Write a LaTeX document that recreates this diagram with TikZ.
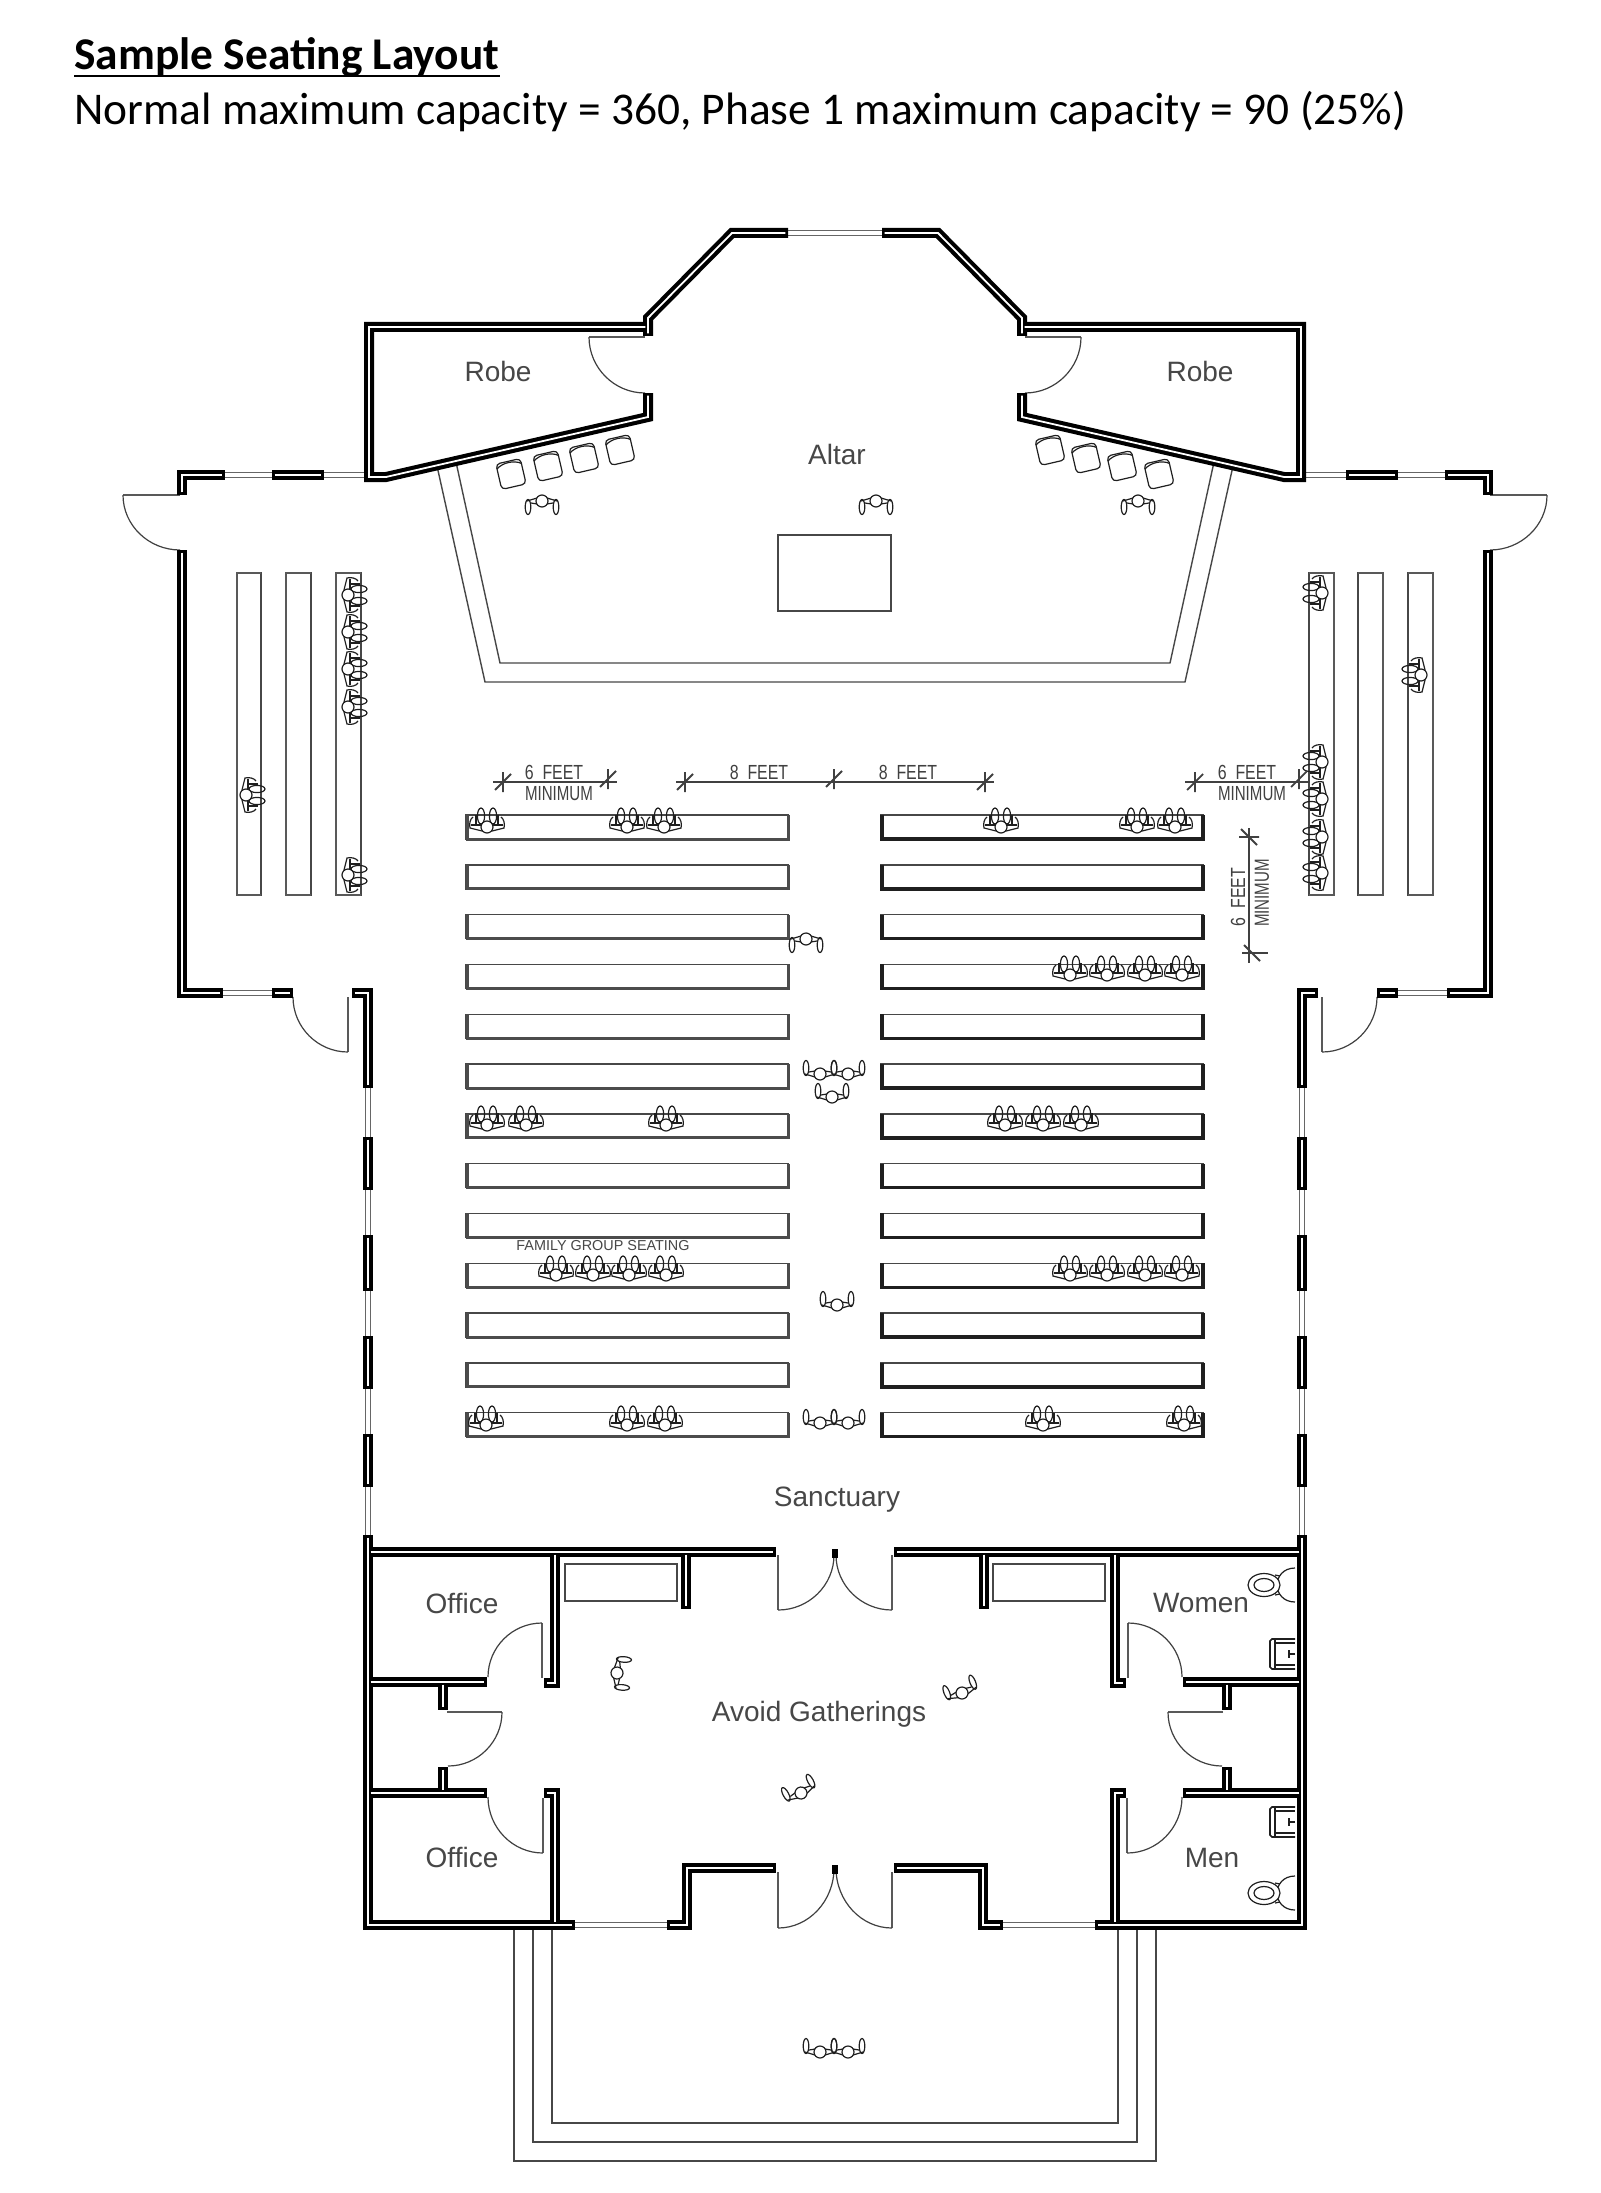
\documentclass[tikz,border=0pt]{standalone}
\usepackage{fontspec}
\setmainfont{Liberation Sans}
\newfontfamily\carl{Carlito}
\usetikzlibrary{calc}
\tikzset{
  thinl/.style={line width=.7pt,draw=black!72},
  leaf/.style={line width=.9pt,draw=black!65},
  arcl/.style={line width=.6pt,draw=black!75},
  wl/.style={line width=5pt,draw=black},
  winl/.style={line width=.55pt,draw=black!60,double=white,double distance=1.6pt},
  lab/.style={inner sep=0pt,text=black!72,font=\fontsize{14}{16}\selectfont},
  dimt/.style={inner sep=0pt,text=black!75,font=\fontsize{10.2}{12}\selectfont},
  diml/.style={line width=.7pt,draw=black!75},
  tit/.style={inner sep=0pt,anchor=base west,text=black,font=\carl\fontsize{22.7}{26}\selectfont},
  figl/.style={line width=.6pt,draw=black!88},
  stand/.pic={
    \draw[figl] (-5,3)--(-15,0) (-5,-3)--(-11,-2) (5,3)--(15,0) (5,-3)--(11,-2);
    \draw[figl] (-14,-6) ellipse[x radius=2.8,y radius=7.5];
    \draw[figl] (14,-6) ellipse[x radius=2.8,y radius=7.5];
    \draw[figl,fill=white] (0,0) circle[radius=6];
  },
  seatp/.pic={
    \draw[figl] (-5,4)--(-17,1) .. controls (-18,-3) and (-17,-8) .. (-14,-10) (5,4)--(17,1) .. controls (18,-3) and (17,-8) .. (14,-10);
    \draw[figl] (-16,-2)--(-5,-2) (16,-2)--(5,-2);
    \draw[figl] (-11,-3)--(-11,-12) (11,-3)--(11,-12);
    \draw[figl] (-6,-11) ellipse[x radius=3.6,y radius=8];
    \draw[figl] (6,-11) ellipse[x radius=3.6,y radius=8];
    \draw[figl,fill=white] (0,0) circle[radius=6];
  },
  chairp/.pic={
    \draw[figl,rounded corners=2pt] (-12.5,-13) rectangle (12.5,13);
    \draw[figl] (-12.5,-8) .. controls (-6,-13) and (6,-13) .. (12.5,-8);
  },
  toiletp/.pic={
    \draw[figl] (0,-17) .. controls (-12,-17) and (-18,-8) .. (-18,0) .. controls (-18,8) and (-12,17) .. (0,17);
    \draw[figl,fill=white] (-31,0) ellipse[x radius=16,y radius=11.5];
    \draw[figl] (-31,0) ellipse[x radius=10,y radius=6.5];
    \draw[figl] (-20,-10)--(-15,-9) (-20,10)--(-15,9);
  },
  sinkp/.pic={
    \draw[figl,line width=.8pt] (0,-15)--(-23,-15)--(-25,-13)--(-25,13)--(-23,15)--(0,15);
    \draw[figl] (-20,-15)--(-20,15) (-20,-11)--(0,-11) (-20,11)--(0,11);
    \draw[figl,line width=.9pt] (0,0)--(-7,0) (-6,-4)--(-6,4);
  }
}
\newcommand\qa[4]{\draw[arcl] (#1,#2) .. controls ($(#1,#2)!.55!(#1,#4)$) and ($(#3,#4)!.55!(#1,#4)$) .. (#3,#4);}
\newcommand\wallset{%
  \draw[wl] (648,336)--(648,318)--(732,233)--(788,233);
  \draw[wl] (648,327)--(369,327)--(369,477)--(386,477)--(648,417)--(648,393);
  \draw[wl] (182,495)--(182,475)--(225,475);
  \draw[wl] (272,475)--(324,475);
  \draw[wl] (182,550)--(182,993)--(223,993);
  \draw[wl] (272,993)--(293,993);
  \draw[wl] (352,993)--(368,993)--(368,1088);
  \draw[wl] (368,1137)--(368,1190);
  \draw[wl] (368,1235)--(368,1291);
  \draw[wl] (368,1336)--(368,1389);
  \draw[wl] (368,1434)--(368,1487);
  \draw[wl] (368,1535)--(368,1925)--(575,1925);
  \draw[wl] (368,1552)--(776,1552);
  \draw[wl] (555,1552)--(555,1683)--(544,1683);
  \draw[wl] (686,1552)--(686,1609);
  \draw[wl] (368,1682)--(487,1682);
  \draw[wl] (443,1682)--(443,1710);
  \draw[wl] (443,1767)--(443,1793);
  \draw[wl] (368,1793)--(487,1793);
  \draw[wl] (544,1793)--(555,1793)--(555,1925);
  \draw[wl] (667,1925)--(687,1925)--(687,1868)--(776,1868);
}
\newcommand\halfset{%
  \foreach \a/\b/\c/\d in {225/475/272/475,324/475/369/475,223/993/272/993,788/233/835/233,
     368/1088/368/1137,368/1190/368/1235,368/1291/368/1336,368/1389/368/1434,368/1487/368/1535,575/1925/667/1925}
     {\draw[winl] (\a,\b)--(\c,\d);}
  \draw[leaf] (589,337)--(645,337); \qa{589}{337}{645}{393}
  \draw[leaf] (123,495)--(180,495); \qa{123}{495}{180}{550}
  \draw[leaf] (348,997)--(348,1052); \qa{293}{997}{348}{1052}
  \draw[leaf] (542,1623)--(542,1678); \qa{488}{1677}{542}{1623}
  \draw[leaf] (447,1712)--(502,1712); \qa{502}{1712}{448}{1766}
  \draw[leaf] (543,1798)--(543,1853); \qa{488}{1797}{543}{1853}
  \draw[leaf] (778,1555)--(778,1610); \qa{834}{1555}{778}{1610}
  \draw[leaf] (778,1872)--(778,1928); \qa{834}{1868}{778}{1928}
  \draw[line width=1.6pt] (834,1549)--(834,1558);
  \draw[line width=1.6pt] (834,1865)--(834,1874);
  \draw[thinl] (565,1564) rectangle (677,1601);
  \pic[rotate=13] at (511,474) {chairp};
  \pic[rotate=13] at (548,466) {chairp};
  \pic[rotate=13] at (584,458) {chairp};
  \pic[rotate=13] at (620,450) {chairp};
}
\newcommand\tickv[2]{\draw[diml,line width=.9pt] (#1,#2-10)--(#1,#2+10) (#1-8,#2+8)--(#1+8,#2-8);}
\newcommand\tickh[2]{\draw[diml,line width=.9pt] (#1-10,#2)--(#1+10,#2) (#1-8,#2-8)--(#1+8,#2+8);}
\newcommand\nar[2]{\scalebox{#1}[1]{#2}}
\begin{document}
\begin{tikzpicture}[x=.5pt,y=-.5pt]
\useasboundingbox (0,0) rectangle (1600,2193);
\fill[white] (0,0) rectangle (1600,2193);

\node[tit] (t1) at (74,70) {\textbf{Sample Seating Layout}};
\draw[line width=1.1pt] ($(t1.base west)+(0,6)$) -- ($(t1.base east)+(0,6)$);
\node[tit] (t2) at (74,125) {Normal maximum capacity = 360, Phase 1 maximum capacity = 90 (25\%)};

% altar platform and table
\draw[thinl] (437,466)--(485,682)--(1185,682)--(1233,466);
\draw[thinl] (456,462)--(500,663)--(1170,663)--(1214,462);
\draw[thinl] (778,535) rectangle (891,611);

% porch
\draw[thinl] (514,1930)--(514,2161)--(1156,2161)--(1156,1930);
\draw[thinl] (533,1930)--(533,2142)--(1137,2142)--(1137,1930);
\draw[thinl] (552,1930)--(552,2123)--(1118,2123)--(1118,1930);

% half-plan things, mirrored
\halfset
\begin{scope}[shift={(1670,0)},xscale=-1]\halfset\end{scope}

% walls
\wallset
\begin{scope}[shift={(1670,0)},xscale=-1]\wallset\end{scope}
\tikzset{wl/.style={line width=.9pt,draw=white,shorten >=1.3pt,shorten <=1.3pt}}
\wallset
\begin{scope}[shift={(1670,0)},xscale=-1]\wallset\end{scope}

% centre pews
\foreach \i in {0,...,12}{
  \pgfmathsetmacro\yt{815+49.8*\i}
  \pgfmathsetmacro\yb{\yt+24}
  \draw[thinl] (466,\yt) rectangle (788,\yb);
  \draw[line width=1.5pt,draw=black!70] (467,\yt)--(467,\yb)--(788,\yb)--(788,\yt);
  \draw[thinl] (881,\yt) rectangle (1203,\yb);
  \draw[line width=1.7pt,draw=black!88] (882,\yt)--(882,\yb)--(1203,\yb)--(1203,\yt);
}
% side pews
\foreach \a/\b in {237/261,286/311,336/361}{
  \draw[thinl] (\a,573) rectangle (\b,895);
  \draw[line width=1.4pt,draw=black!65] (\b,573)--(\a,573)--(\a,895)--(\b,895);
}
\foreach \a/\b in {1309/1334,1358/1383,1408/1433}{
  \draw[thinl] (\a,573) rectangle (\b,895);
  \draw[line width=1.4pt,draw=black!65] (\a,573)--(\b,573)--(\b,895)--(\a,895);
}

% people seated in centre pews
\foreach \x/\y in {487/827,627/827,664/827,1001/827,1137/827,1175/827,
  1070/975,1107/975,1145/975,1182/975,
  487/1125,526/1125,666/1125,1005/1125,1043/1125,1081/1125,
  556/1275,593/1275,629/1275,666/1275,1070/1275,1107/1275,1145/1275,1182/1275,
  486/1425,627/1425,665/1425,1043/1425,1184/1425}
  {\pic at (\x,\y) {seatp};}
% people seated in side pews
\foreach \y in {595,632,669,707,875}{\pic[rotate=-90] at (348,\y) {seatp};}
\pic[rotate=-90] at (246,795) {seatp};
\foreach \y in {593,762,799,837,873}{\pic[rotate=90] at (1322,\y) {seatp};}
\pic[rotate=90] at (1421,675) {seatp};

% standing people
\pic[rotate=180] at (542,501) {stand};
\pic[rotate=180] at (876,501) {stand};
\pic[rotate=180] at (1138,501) {stand};
\pic[rotate=180] at (806,939) {stand};
\pic at (820,1074) {stand};
\pic at (848,1074) {stand};
\pic at (832,1097) {stand};
\pic at (837,1305) {stand};
\pic at (820,1423) {stand};
\pic at (848,1423) {stand};
\pic at (820,2052) {stand};
\pic at (848,2052) {stand};
\pic[rotate=-94] at (617,1673) {stand};
\pic[rotate=22] at (962,1693) {stand};
\pic[rotate=28] at (801,1793) {stand};

% fixtures
\pic at (1295,1585) {toiletp};
\pic at (1295,1893) {toiletp};
\pic at (1295,1654) {sinkp};
\pic at (1295,1822) {sinkp};

% dimensions
\draw[diml] (493,782)--(617,782);
\tickv{503}{782}\tickv{608}{779}
\draw[diml] (676,782)--(994,782);
\tickv{685}{782}\tickv{834}{779}\tickv{985}{782}
\draw[diml] (1185,782)--(1310,782);
\tickv{1195}{782}\tickv{1299}{779}
\draw[diml] (1249,828)--(1249,963);
\tickh{1249}{837}\tickh{1252}{953}
\draw[diml] (1249,953)--(1268,953);
\node[dimt] (d1) at (554,772) {\nar{.78}{6\ \ FEET}};
\node[dimt] (d2) at (559,794) {\nar{.74}{MINIMUM}};
\node[dimt] (d3) at (759,772) {\nar{.78}{8\ \ FEET}};
\node[dimt] (d4) at (908,772) {\nar{.78}{8\ \ FEET}};
\node[dimt] (d5) at (1247,772) {\nar{.78}{6\ \ FEET}};
\node[dimt] (d6) at (1252,794) {\nar{.74}{MINIMUM}};
\node[dimt,rotate=90] (d7) at (1238,897) {\nar{.78}{6\ \ FEET}};
\node[dimt,rotate=90] (d8) at (1262,893) {\nar{.74}{MINIMUM}};

% labels
\node[lab] (r1) at (498,371) {Robe};
\node[lab] (r2) at (1200,371) {Robe};
\node[lab] (al) at (837,454) {Altar};
\node[lab] (sa) at (837,1500) {Sanctuary};
\node[lab] (o1) at (462,1603) {Office};
\node[lab] (o2) at (462,1857) {Office};
\node[lab] (wo) at (1201,1603) {Women};
\node[lab] (me) at (1212,1858) {Men};
\node[lab] (av) at (819,1714) {Avoid Gatherings};
\node[inner sep=0pt,text=black!72,font=\fontsize{7.2}{9}\selectfont] (fg) at (603,1246) {FAMILY GROUP SEATING};
\end{tikzpicture}
\end{document}
